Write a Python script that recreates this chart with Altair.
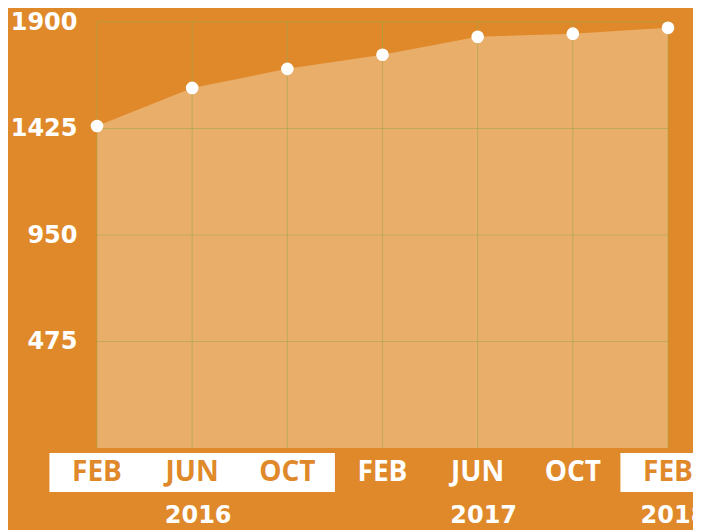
import altair as alt
import pandas as pd

months = ["FEB", "JUN", "OCT", "FEB", "JUN", "OCT", "FEB"]
years = [2016, 2016, 2016, 2017, 2017, 2017, 2018]
values = [1436, 1606, 1691, 1754, 1834, 1848, 1874]
y_ticks = [475, 950, 1425, 1900]
highlight_years = [2016, 2018]

BG = "#E0892A"
AREA = "#EAAE6B"
GRID = "#9CA84A"
FONT = "Open Sans"
NUM_FONT = "DejaVu Sans"

df = pd.DataFrame({
    "idx": list(range(len(months))),
    "month": months,
    "year": years,
    "value": values,
})
df["hl"] = df["year"].isin(highlight_years)
df["top"] = max(y_ticks)
df["bottom"] = 0

ydf = df.groupby("year", as_index=False)["idx"].mean()
gdf = pd.DataFrame({"tick": y_ticks, "xa": 0, "xb": len(months) - 1})

xscale = alt.Scale(domain=[0, len(months) - 1], nice=False, zero=False)
yscale = alt.Scale(domain=[0, max(y_ticks)], nice=False)

base = alt.Chart(df)

area = base.mark_area(color=AREA, opacity=1).encode(
    x=alt.X("idx:Q", scale=xscale, axis=None),
    y=alt.Y("value:Q", scale=yscale,
            axis=alt.Axis(values=y_ticks, format="d", grid=False, ticks=False, domain=False,
                          labelColor="white", labelFont=NUM_FONT, labelFontSize=24,
                          labelFontWeight="bold", labelPadding=20, title=None)),
)

vgrid = base.mark_rule(color=GRID, opacity=0.55, strokeWidth=1).encode(
    x=alt.X("idx:Q", scale=xscale),
    y=alt.Y("bottom:Q", scale=yscale),
    y2="top:Q",
)

hgrid = alt.Chart(gdf).mark_rule(color=GRID, opacity=0.55, strokeWidth=1).encode(
    x=alt.X("xa:Q", scale=xscale),
    x2="xb:Q",
    y=alt.Y("tick:Q", scale=yscale),
)

points = base.mark_circle(color="white", opacity=1, size=160).encode(
    x=alt.X("idx:Q", scale=xscale),
    y=alt.Y("value:Q", scale=yscale),
)

boxes = base.transform_filter("datum.hl").transform_aggregate(
    lo="min(idx)", hi="max(idx)", groupby=["year"]
).transform_calculate(
    x0="datum.lo - 0.5", x1="datum.hi + 0.5"
).mark_rect(color="white").encode(
    x=alt.X("x0:Q", scale=xscale),
    x2="x1:Q",
    y=alt.value(431),
    y2=alt.value(470),
)

month_text = base.mark_text(font=FONT, fontSize=28, fontWeight="bold",
                            baseline="middle", align="center").encode(
    x=alt.X("idx:Q", scale=xscale),
    y=alt.value(451),
    text="month:N",
    color=alt.condition("datum.hl", alt.value(BG), alt.value("white")),
)

year_text = alt.Chart(ydf).mark_text(font=NUM_FONT, fontSize=24, fontWeight="bold",
                                     baseline="middle", align="center", dx=6,
                                     color="white").encode(
    x=alt.X("idx:Q", scale=xscale),
    y=alt.value(494),
    text="year:N",
)

chart = alt.layer(area, vgrid, hgrid, points, boxes, month_text, year_text).properties(
    width=571, height=426,
    autosize=alt.AutoSizeParams(type="none"),
    padding={"left": 89, "top": 14, "right": 25, "bottom": 82},
    background=BG,
).configure_view(stroke=None)

chart.save("out.html", embed_options={"renderer": "svg", "actions": False})
